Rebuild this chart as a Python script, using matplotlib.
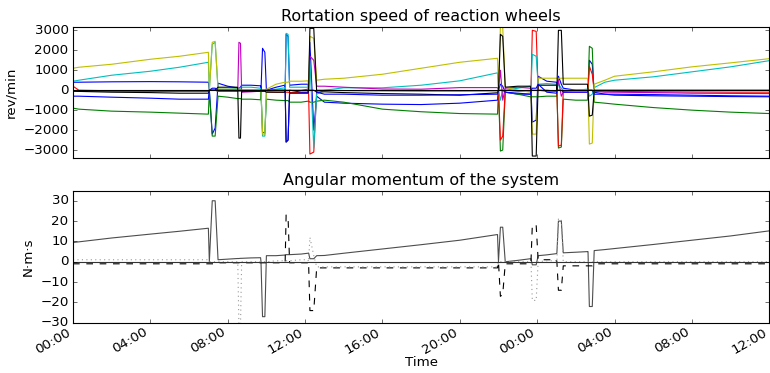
import numpy as np
import matplotlib
matplotlib.use('Agg')
import matplotlib.pyplot as plt
import matplotlib.dates as mdates

# time knots in hours after start (segments / manoeuvres)
hours = [0, 0.3, 2, 4, 5.5, 7.0,
         7.05, 7.2, 7.35, 7.5,
         8.0, 8.5,
         8.52, 8.58, 8.66, 8.72,
         9.2, 9.7,
         9.72, 9.8, 9.92, 10.0,
         10.5, 10.95,
         10.97, 11.02, 11.12, 11.2,
         11.8, 12.15,
         12.18, 12.25, 12.45, 12.6,
         13, 14, 16, 18, 20, 21.95,
         22.0, 22.1, 22.22, 22.35,
         23.0, 23.65,
         23.68, 23.75, 23.95, 24.05,
         24.5, 25.0,
         25.02, 25.1, 25.25, 25.35,
         26.0, 26.6,
         26.63, 26.7, 26.85, 26.95,
         27.5, 28, 30, 32, 34, 36]

# wheel speeds, rev/min
wheel1 = [400, 400, 420, 430, 420, 400,
          0, -2200, -1900, 350,
          200, 120,
          100, 100, 150, 250,
          250, 220,
          0, 2100, 1900, 0,
          150, 250,
          0, 2800, 2700, 250,
          300, 300,
          0, 2400, -2000, -300,
          -600, -650, -700, -720, -650, -500,
          0, 300, 200, -100,
          -200, -200,
          0, -1600, -1500, 700,
          450, 400,
          0, 700, 300, 100,
          0, 0,
          0, 1500, 1300, -100,
          -200, -250, -280, -300, -320, -330]
wheel2 = [-900, -950, -1050, -1100, -1150, -1200,
          0, -2300, -2300, -300,
          -350, -420,
          -420, -420, -420, -450,
          -450, -480,
          0, -2100, -2150, -450,
          -500, -520,
          -520, -520, -520, -600,
          -600, -550,
          -550, -600, -600, -550,
          -500, -600, -950, -1080, -1170, -1200,
          0, -3050, -3000, -100,
          -200, -330,
          -330, -330, -330, -330,
          -300, -300,
          0, -2900, -2850, -450,
          -500, -500,
          0, 2200, 2100, -600,
          -650, -700, -870, -1000, -1100, -1170]
wheel3 = [200, 0, -30, -50, -50, -50,
          0, 0, 0, -50,
          -50, -50,
          -50, -50, -50, -50,
          -50, -50,
          -50, -50, -50, -80,
          -100, -100,
          -100, -100, -100, -120,
          -120, -120,
          0, -3200, -3100, 0,
          0, -20, -30, -40, -40, -30,
          0, -2500, -2300, 0,
          -50, -50,
          0, 3000, 2950, 0,
          -50, -50,
          0, -2800, -2750, -50,
          0, 0,
          0, 1200, 800, -50,
          -50, -60, -80, -90, -100, -100]
wheel4 = [450, 500, 750, 950, 1150, 1400,
          0, 2300, 2400, 50,
          50, 80,
          100, 100, 100, 150,
          150, 100,
          0, -2300, -2300, 0,
          50, 120,
          0, 2850, 2800, 150,
          150, 150,
          0, 1500, -2900, -200,
          0, 120, 120, 250, 470, 870,
          0, -500, 0, 0,
          100, 200,
          0, 1800, 1700, 300,
          330, 300,
          0, 300, 100, 0,
          0, 50,
          0, -300, -200, 130,
          400, 500, 670, 920, 1170, 1480]
wheel5 = [-50, -50, -50, -50, -50, -50,
          0, 0, 0, -50,
          -50, -60,
          0, 2400, 2350, -100,
          -80, -50,
          0, 0, 0, 0,
          0, 0,
          0, 0, 0, 0,
          0, 50,
          0, 1700, 1500, 200,
          200, 150, 60, 50, 130, 130,
          0, 1000, -500, 100,
          150, 100,
          0, 0, 0, 0,
          0, -50,
          0, 500, -300, -100,
          -100, -100,
          0, 0, 0, -50,
          -100, -100, -120, -150, -160, -170]
wheel6 = [1100, 1150, 1300, 1550, 1700, 1900,
          0, 2400, 2450, 50,
          50, 50,
          50, 50, 50, 0,
          0, 0,
          0, -2200, -2200, 50,
          300, 400,
          400, 400, 400, 450,
          450, 470,
          0, 2700, 2600, 500,
          550, 600, 800, 1100, 1400, 1600,
          0, 3200, 3150, 150,
          0, -100,
          0, -2200, -2200, 600,
          600, 600,
          600, 600, 600, 600,
          600, 600,
          0, -2700, -2650, 300,
          500, 700, 920, 1170, 1370, 1580]
wheel7 = [-50, -60, -100, -120, -150, -150,
          0, 0, 0, 150,
          150, 150,
          0, -2400, -2400, -50,
          -50, -50,
          -50, -50, -50, -100,
          -100, -100,
          0, -2600, -2500, -150,
          -150, -150,
          0, 3100, 3100, -100,
          -80, -120, -170, -200, -250, -130,
          0, 2800, 2700, 150,
          200, 200,
          0, -3300, -3300, 250,
          250, 250,
          0, 3000, 3000, 300,
          300, 300,
          0, -1300, -1250, 0,
          0, 0, 0, 0, 0, 0]
wheel8 = [-300, -300, -350, -400, -450, -450,
          0, 100, 100, 0,
          0, 0,
          0, 0, 0, 0,
          0, 0,
          0, 0, 0, 0,
          0, 0,
          0, -2600, -2500, 0,
          -100, -100,
          0, 0, 0, -100,
          -200, -200, -250, -250, -230, -200,
          0, 0, 0, -100,
          -150, -200,
          0, 100, 100, 300,
          -100, -150,
          0, 0, 0, -100,
          -100, -100,
          0, 0, 0, -200,
          -200, -200, -220, -250, -280, -300]

# angular momentum of the system, N m s
h_total = [9.5, 9.8, 11.7, 13.6, 15, 16.5,
           0, 30, 30, 1,
           1.3, 1.6,
           1.6, 1.6, 1.7, 1.7,
           1.9, 2.0,
           0, -27, -27, 3,
           3, 3.3,
           3.4, 3.5, 3.5, 3.5,
           3.8, 4.2,
           4.3, 1.5, 1.5, 3,
           3.1, 4.2, 6.3, 8.4, 10.6, 13.4,
           0, 17, 17, 0,
           0.7, 1.5,
           1.5, -1.5, -1.5, 3,
           3.4, 4,
           4.2, 20, 20, 4.4,
           4.7, 5.0,
           5, -22, -22, 5.5,
           6, 6.5, 8.5, 10.6, 12.7, 15.2]
h_dashed = [-1, -1, -1, -1, -1, -1,
            -1, -1, -1, -0.5,
            -0.5, -0.5,
            -0.5, -0.5, -0.5, -0.5,
            -0.5, -0.5,
            -0.5, -0.5, -0.5, -0.5,
            -0.5, -0.5,
            0, 23, 22, -0.5,
            -0.5, -0.5,
            0, -24, -24, -3,
            -3, -3, -3, -3, -3, -3,
            0, -17, -16, -1,
            -1, -1,
            0, 18, 18, 1,
            1, 1,
            0, -14, -14, -2,
            -2, -2,
            -2, -2, -2, -1,
            -1, -1, -1, -1, -1, -1]
h_dotted = [1, 1, 1, 1, 1, 1,
            0, 0, 0, 0,
            0, 0,
            0, -32, -32, 0,
            0, 0,
            0, 0, 0, 0,
            0.5, 0.5,
            0.5, 0.5, 0.5, 0.5,
            1, 1,
            0, 12, 3, -2.5,
            -2.5, -2.5, -2.5, -2.5, -2.5, -2.5,
            0, 0, 0, 0,
            0, 0,
            0, -19, -19, 0,
            0.5, 0.5,
            0, 21, 21, 0,
            0, 0,
            0, 0, 0, 0,
            0, 0, 0, 0, 0, 0]

plt.style.use('classic')
plt.rcParams['figure.facecolor'] = 'white'
plt.rcParams['savefig.facecolor'] = 'white'

start = np.datetime64('2016-01-01T00:00')
t = start + (np.array(hours) * 3600).astype('timedelta64[s]')
t_end = start + np.timedelta64(36, 'h')

fig = plt.figure(figsize=(770 / 80, 373 / 80), dpi=80)
ax1 = fig.add_axes([0.0948, 0.5755, 0.9042, 0.352])
ax2 = fig.add_axes([0.0948, 0.133, 0.9042, 0.356], sharex=ax1)

wheels = [wheel1, wheel2, wheel3, wheel4, wheel5, wheel6, wheel7, wheel8]
colors = ['b', 'g', 'r', 'c', 'm', 'y', 'k', 'b']
for w, c in zip(wheels, colors):
    ax1.plot(t, w, color=c)
ax1.axhline(0, color='k')
ax1.set_ylim(-3415, 3165)
ax1.set_yticks([-3000, -2000, -1000, 0, 1000, 2000, 3000])
ax1.set_ylabel('rev/min')
ax1.set_title('Rortation speed of reaction wheels')
plt.setp(ax1.get_xticklabels(), visible=False)

ax2.plot(t, h_total, color='0.3')
ax2.plot(t, h_dashed, color='k', linestyle='--')
ax2.plot(t, h_dotted, color='0.6', linestyle=':')
ax2.axhline(0, color='0.2')
ax2.set_ylim(-30.3, 35)
ax2.set_yticks([-30, -20, -10, 0, 10, 20, 30])
ax2.set_ylabel('N·m·s')
ax2.set_title('Angular momentum of the system')
ax2.set_xlabel('Time', labelpad=0)

ax2.set_xlim(start, t_end)
ax2.xaxis.set_major_locator(mdates.HourLocator(byhour=[0, 4, 8, 12, 16, 20]))
ax2.xaxis.set_major_formatter(mdates.DateFormatter('%H:%M'))
ax2.tick_params(axis='x', pad=2)
for lbl in ax2.get_xticklabels():
    lbl.set_rotation(30)
    lbl.set_ha('right')

fig.savefig('out.png', dpi=80)
